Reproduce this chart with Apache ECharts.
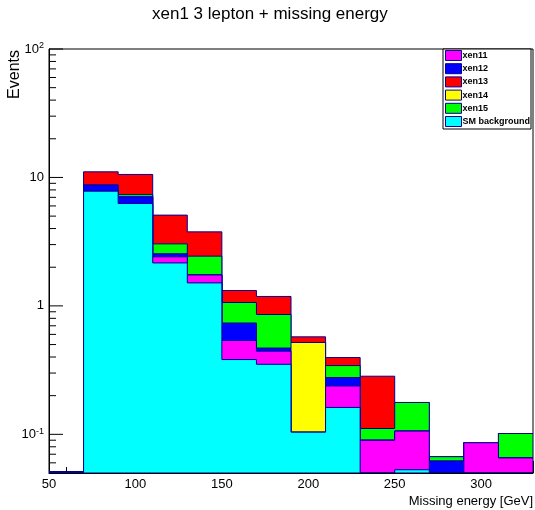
<!DOCTYPE html>
<html><head><meta charset="utf-8">
<script src="https://cdn.jsdelivr.net/npm/echarts@6/dist/echarts.min.js"></script>
<style>html,body{margin:0;padding:0;background:#fff}#c{width:535px;height:510px}</style>
</head><body><div id="c"></div>
<script>
// bin edges (GeV), 14 bins of 20 GeV
const binEdges = [50,70,90,110,130,150,170,190,210,230,250,270,290,310,330];
// per-bin contents (Events)
const smBackground = [0, 7.82, 6.27, 2.16, 1.51, 0.382, 0.351, 0.104, 0.162, 0, 0.053, 0, 0, 0];
const xen11 = [0, 0, 0, 0.25, 0.23, 0.156, 0.093, 0, 0.076, 0.09, 0.053, 0, 0.086, 0.0655];
const xen12 = [0, 0.89, 0.79, 0.13, 0, 0.195, 0.024, 0, 0.039, 0, 0, 0.062, 0, 0];
const xen14 = [0, 0, 0, 0, 0, 0, 0, 0.415, 0, 0, 0, 0, 0, 0];
const xen15 = [0, 0, 0.29, 0.50, 0.70, 0.33, 0.389, 0, 0.066, 0.021, 0.071, 0.005, 0, 0.036];
const xen13 = [0, 2.35, 3.2, 2.05, 1.33, 0.255, 0.327, 0.055, 0.053, 0.1725, 0, 0, 0, 0];
const legendNames = ['xen11','xen12','xen13','xen14','xen15','SM background'];
const yMajorTicks = [0.1, 1, 10, 100];
const yMinorTicks = [0.06,0.07,0.08,0.09,0.2,0.3,0.4,0.5,0.6,0.7,0.8,0.9,2,3,4,5,6,7,8,9,20,30,40,50,60,70,80,90];
const yMin = 0.05, yMax = 100, xMin = 50, xMax = 330;

const lineCol = '#000099';
// stack order: bottom -> top
const layers = [
  {name:'SM background', values: smBackground, color:'#00ffff'},
  {name:'xen11', values: xen11, color:'#ff00ff'},
  {name:'xen12', values: xen12, color:'#0000ff'},
  {name:'xen14', values: xen14, color:'#ffff00'},
  {name:'xen15', values: xen15, color:'#00ff00'},
  {name:'xen13', values: xen13, color:'#ff0000'}
];
let running = binEdges.slice(1).map(() => 0);
layers.forEach(l => { running = running.map((r, i) => r + l.values[i]); l.cum = running.slice(); });

function makeRender(cum, color) {
  return function (params, api) {
    const pts = [api.coord([binEdges[0], yMin])];
    for (let i = 0; i < cum.length; i++) {
      const v = Math.max(cum[i], yMin);
      pts.push(api.coord([binEdges[i], v]));
      pts.push(api.coord([binEdges[i + 1], v]));
    }
    pts.push(api.coord([binEdges[binEdges.length - 1], yMin]));
    return {type:'polygon', shape:{points: pts}, style:{fill: color, stroke: lineCol, lineWidth: 1}};
  };
}

const series = layers.slice().reverse().map(l => ({
  name: l.name, type: 'custom', coordinateSystem: 'cartesian2d',
  data: [[xMin, 1]], encode: {x: 0, y: 1}, clip: true, silent: true, z: 2,
  itemStyle: {color: l.color, borderColor: lineCol, borderWidth: 1},
  renderItem: makeRender(l.cum, l.color)
}));

// empty-bin baseline of the stack outline (drawn thicker like the reference)
series.push({
  type: 'custom', coordinateSystem: 'cartesian2d', silent: true, z: 3,
  data: [[xMin, 1]], encode: {x: 0, y: 1},
  renderItem: function (params, api) {
    const total = layers[layers.length - 1].cum;
    const children = [];
    for (let i = 0; i < total.length; i++) {
      if (total[i] <= 0) {
        const a = api.coord([binEdges[i], yMin]), b = api.coord([binEdges[i + 1], yMin]);
        children.push({type:'line', shape:{x1:a[0], y1:a[1] - 1, x2:b[0], y2:b[1] - 1}, style:{stroke: lineCol, lineWidth: 2}});
      }
    }
    return {type:'group', children: children};
  }
});

const tickData = yMajorTicks.map(v => [xMin, v, 14]).concat(yMinorTicks.map(v => [xMin, v, 7]));
series.push({
  type: 'custom', coordinateSystem: 'cartesian2d', silent: true, z: 1,
  data: tickData, encode: {x: 0, y: 1},
  renderItem: function (params, api) {
    const p = api.coord([api.value(0), api.value(1)]);
    const len = api.value(2);
    return {type:'line', shape:{x1: p[0], y1: p[1], x2: p[0] + len, y2: p[1]}, style:{stroke:'#000', lineWidth:1}};
  }
});

const colorOf = {};
layers.forEach(l => colorOf[l.name] = l.color);

const font = 'Liberation Sans, Arial, sans-serif';
const chart = echarts.init(document.getElementById('c'), null, {renderer: 'canvas'});
chart.setOption({
  animation: false,
  backgroundColor: '#fff',
  title: {text: 'xen1 3 lepton + missing energy', left: 152, top: 6, padding: 0,
    textStyle: {fontSize: 17, fontWeight: 'normal', color: '#000', fontFamily: font}},
  grid: {left: 49, right: 2, top: 49, bottom: 37, show: true, borderColor: '#000', borderWidth: 1, backgroundColor: 'transparent'},
  legend: {
    orient: 'vertical', left: 443, top: 49, itemWidth: 16, itemHeight: 10, itemGap: 2.2,
    padding: [1, 1, 2, 2], borderColor: '#000', borderWidth: 1, backgroundColor: '#fff',
    icon: 'rect', selectedMode: false, z: 10,
    textStyle: {fontSize: 9, lineHeight: 10, fontWeight: 'bold', color: '#000', fontFamily: font, padding: [0, 0, 0, -4]},
    data: legendNames.map(n => ({name: n, itemStyle: {color: colorOf[n], borderColor: lineCol, borderWidth: 1}}))
  },
  xAxis: {
    type: 'value', min: xMin, max: xMax, interval: 50,
    axisLine: {lineStyle: {color: '#000', width: 1}},
    axisTick: {inside: true, length: 12, lineStyle: {color: '#000'}},
    minorTick: {show: true, splitNumber: 5, length: 6, lineStyle: {color: '#000'}},
    splitLine: {show: false},
    axisLabel: {margin: 5, fontSize: 13, color: '#000', fontFamily: font, showMaxLabel: false}
  },
  yAxis: {
    type: 'log', logBase: 10, min: yMin, max: yMax,
    axisLine: {lineStyle: {color: '#000', width: 1}},
    axisTick: {show: false}, splitLine: {show: false},
    axisLabel: {
      margin: 5, fontSize: 13, color: '#000', fontFamily: font, showMinLabel: false,
      formatter: function (v) {
        if (Math.abs(v - 0.1) < 1e-9) return '{b|10}{s|-1}';
        if (Math.abs(v - 100) < 1e-9) return '{b|10}{s|2}';
        if (Math.abs(v - 1) < 1e-9) return '1';
        if (Math.abs(v - 10) < 1e-9) return '10';
        return '';
      },
      rich: {
        b: {fontSize: 13, color: '#000', fontFamily: font},
        s: {fontSize: 9, color: '#000', fontFamily: font, verticalAlign: 'top', padding: [0, 0, 6, 0]}
      }
    }
  },
  graphic: [
    {type: 'text', x: 533, y: 501, style: {text: 'Missing energy [GeV]', fontSize: 13, fontFamily: font, fill: '#000', align: 'right', verticalAlign: 'middle'}},
    {type: 'text', x: 15, y: 50, rotation: Math.PI / 2, style: {text: 'Events', fontSize: 16, fontFamily: font, fill: '#000', align: 'right', verticalAlign: 'middle'}}
  ],
  series: series
});
</script></body></html>
